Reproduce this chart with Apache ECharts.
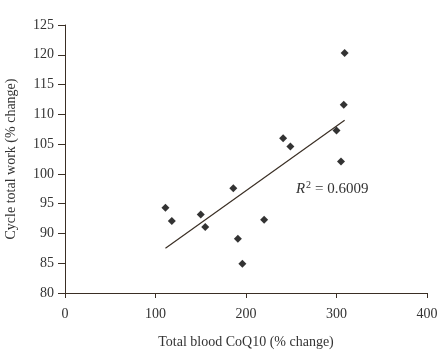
<!DOCTYPE html>
<html><head><meta charset="utf-8">
<script src="https://cdn.jsdelivr.net/npm/echarts@6/dist/echarts.min.js"></script>
<style>html,body{margin:0;padding:0;background:#fff}#c{width:440px;height:359px}</style>
</head><body><div id="c"></div>
<script>
const xValues = [111, 118, 150, 155, 186, 191, 196, 220, 241, 249, 300, 305, 308, 309];
const yValues = [94.3, 92.1, 93.2, 91.1, 97.6, 89.1, 84.9, 92.3, 106.0, 104.6, 107.3, 102.1, 111.6, 120.3];
const trendX = [111, 309];
const trendY = [87.5, 109.0];
const xTitle = 'Total blood CoQ10 (% change)';
const yTitle = 'Cycle total work (% change)';
const r2Text = '0.6009';

const font = 'Liberation Serif';
const ink = '#3a2e24';
const txt = '#333';
const chart = echarts.init(document.getElementById('c'), null, {renderer: 'canvas'});
chart.setOption({
  animation: false,
  backgroundColor: '#fff',
  grid: {left: 65, right: 13, top: 25, bottom: 66, containLabel: false, outerBoundsMode: 'none'},
  xAxis: {
    type: 'value', min: 0, max: 400, interval: 100,
    name: xTitle, nameLocation: 'middle', nameGap: 42,
    nameTextStyle: {fontFamily: font, fontSize: 14, color: txt},
    axisLine: {show: true, onZero: false, lineStyle: {color: ink, width: 1}},
    axisTick: {show: true, length: 5, lineStyle: {color: ink}},
    axisLabel: {fontFamily: font, fontSize: 14, color: txt, margin: 14},
    splitLine: {show: false}
  },
  yAxis: {
    type: 'value', min: 80, max: 125, interval: 5,
    name: yTitle, nameLocation: 'middle', nameGap: 47,
    nameTextStyle: {fontFamily: font, fontSize: 14, color: txt},
    axisLine: {show: true, onZero: false, lineStyle: {color: ink, width: 1}},
    axisTick: {show: true, length: 7, lineStyle: {color: ink}},
    axisLabel: {fontFamily: font, fontSize: 14, color: txt, margin: 11},
    splitLine: {show: false}
  },
  series: [
    {
      type: 'line', data: trendX.map((x, i) => [x, trendY[i]]),
      showSymbol: false, symbol: 'none',
      lineStyle: {color: ink, width: 1.2}, z: 1
    },
    {
      type: 'scatter', data: xValues.map((x, i) => [x, yValues[i]]),
      symbol: 'diamond', symbolSize: [8, 8],
      itemStyle: {color: '#000'}, z: 2
    }
  ],
  graphic: [
    {type: 'text', left: 296, top: 182,
     style: {text: 'R', fontFamily: font, fontSize: 15, fontStyle: 'italic', fill: txt}},
    {type: 'text', left: 306, top: 180,
     style: {text: '2', fontFamily: font, fontSize: 10, fill: txt}},
    {type: 'text', left: 315, top: 182,
     style: {text: '= ' + r2Text, fontFamily: font, fontSize: 15, fill: txt}}
  ]
});
</script></body></html>
